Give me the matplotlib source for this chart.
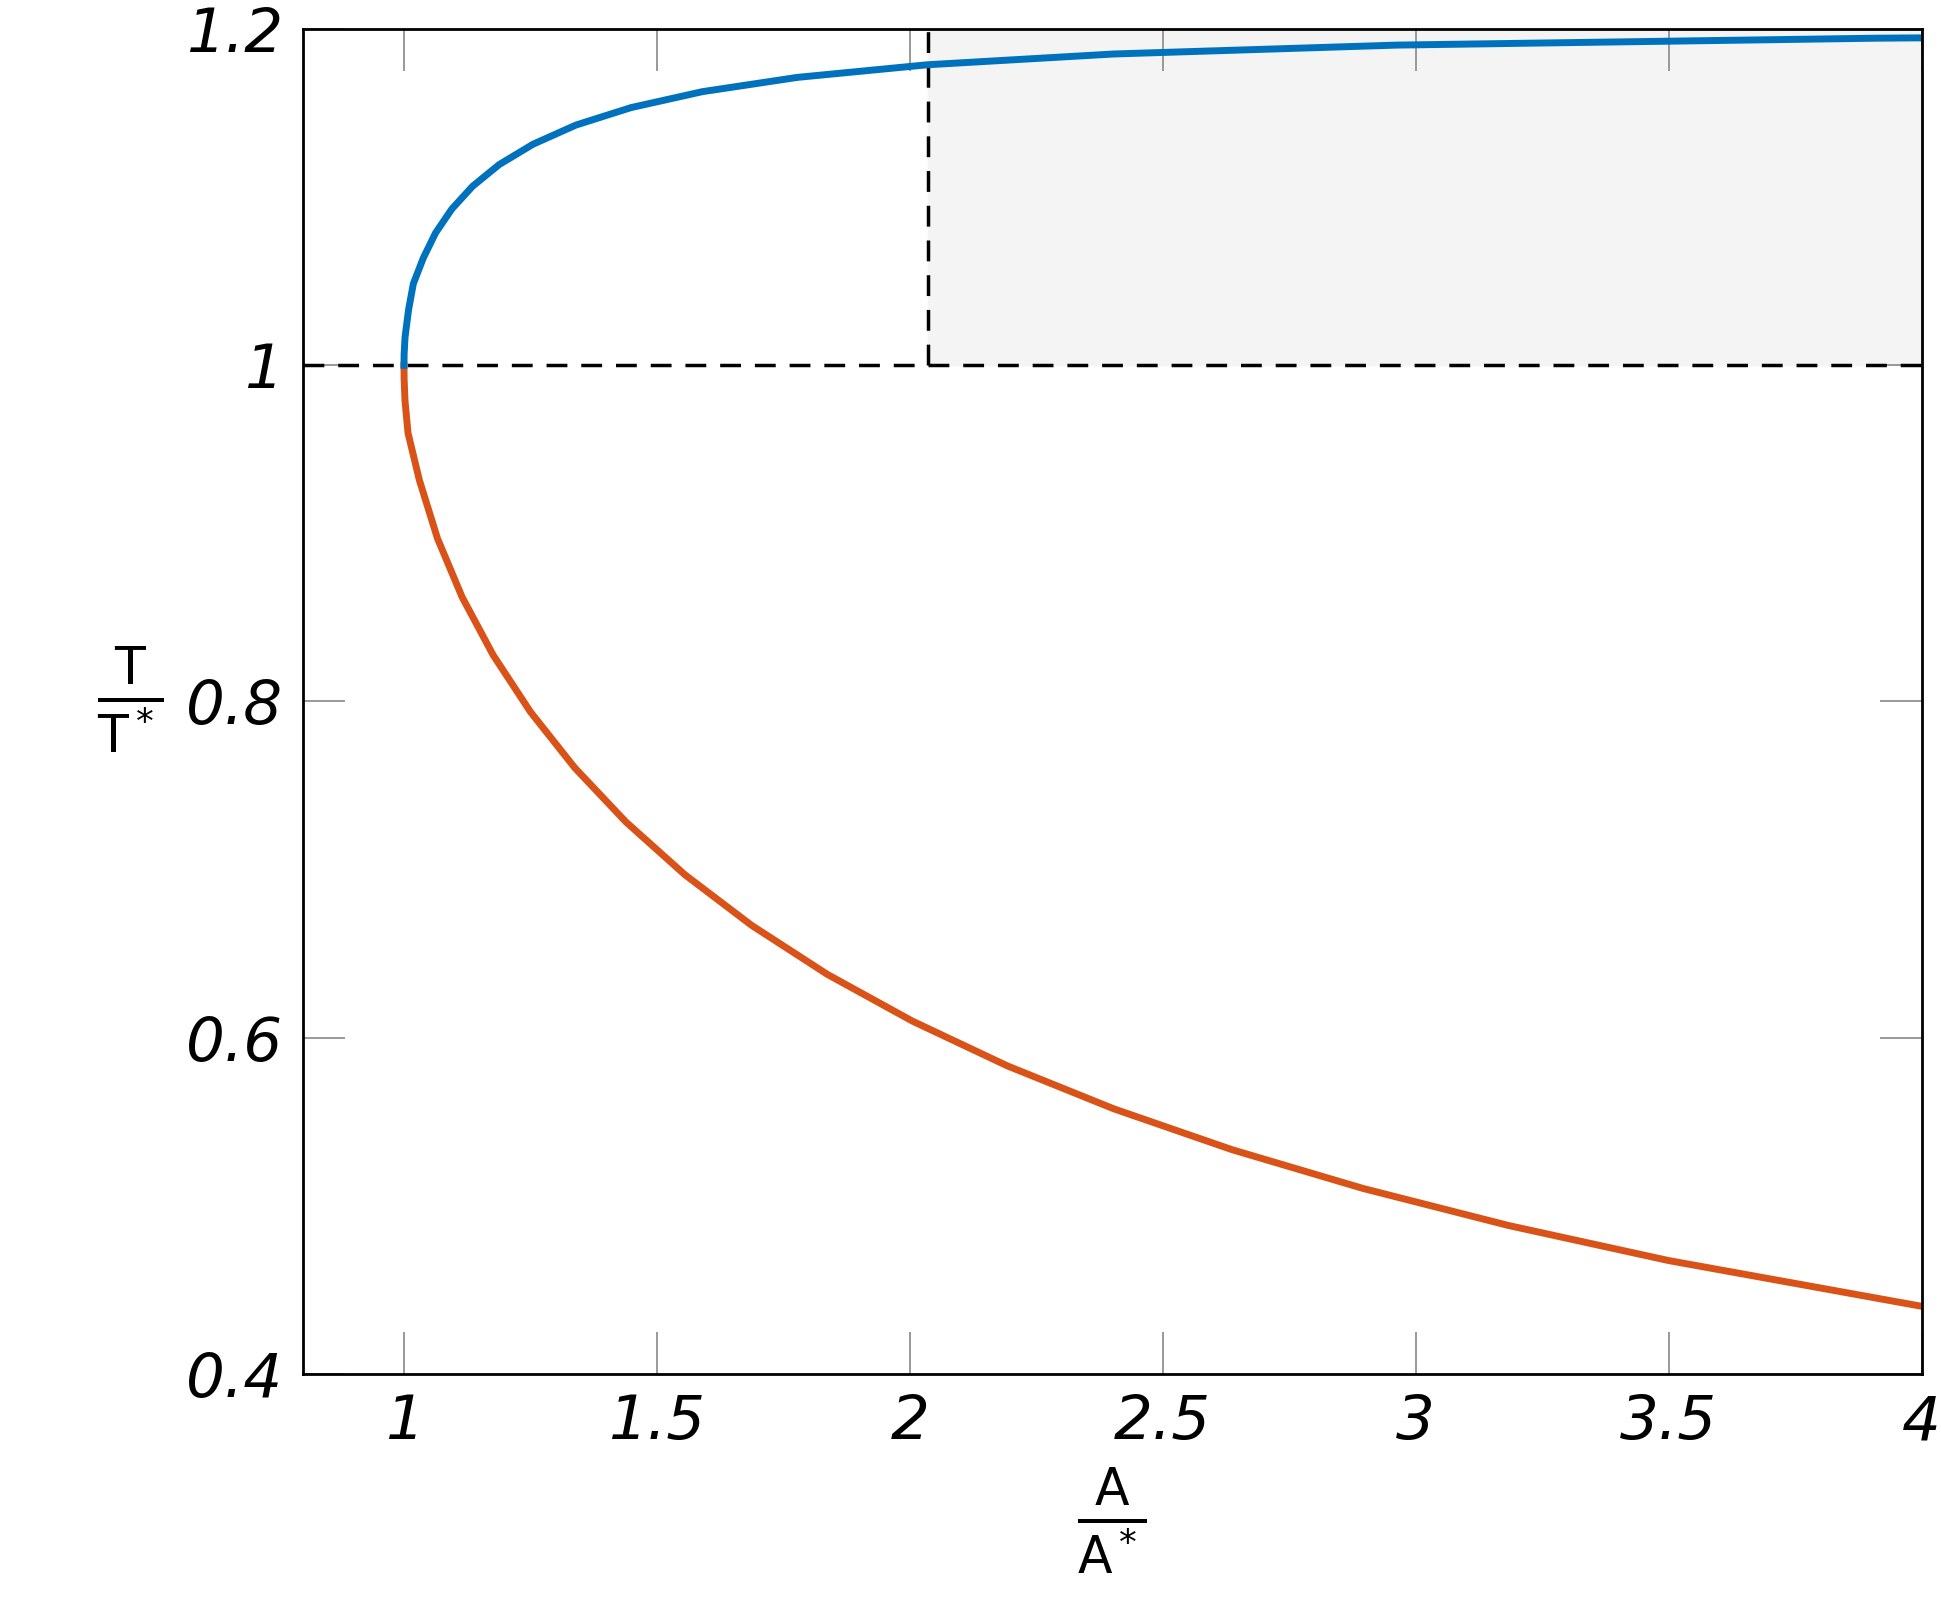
import matplotlib
matplotlib.use("Agg")
import matplotlib.pyplot as plt

# subsonic branch
sub_A = [1.0, 1.0003, 1.0021, 1.0089, 1.0185, 1.0382, 1.0624, 1.0944, 1.1356, 1.1882, 1.2550,
         1.3398, 1.4487, 1.5901, 1.7780, 2.0351, 2.4027, 2.9635, 3.91, 4.0]
sub_T = [1.0, 1.0066, 1.0166, 1.0327, 1.0485, 1.0638, 1.0787, 1.0929, 1.1065, 1.1194, 1.1315,
         1.1429, 1.1533, 1.1628, 1.1713, 1.1788, 1.1852, 1.1905, 1.1946, 1.1948]
# supersonic branch
sup_A = [1.0, 1.0003, 1.002, 1.008, 1.0304, 1.0663, 1.1149, 1.1762, 1.2502, 1.3376, 1.4390,
         1.5552, 1.6875, 1.8369, 2.0050, 2.1931, 2.4031, 2.6367, 2.8960, 3.1830, 3.5001, 4.0]
sup_T = [1.0, 0.9921, 0.979, 0.9597, 0.9317, 0.8969, 0.8621, 0.8276, 0.7937, 0.7605, 0.7282,
         0.6969, 0.6667, 0.6376, 0.6098, 0.5831, 0.5576, 0.5333, 0.5102, 0.4882, 0.4673, 0.4401]
shade_x = [2.036, 4.0]
shade_y = [1.0, 1.2]
xticks = [1, 1.5, 2, 2.5, 3, 3.5, 4]
xlabels = ["1", "1.5", "2", "2.5", "3", "3.5", "4"]
yticks = [0.4, 0.6, 0.8, 1.0, 1.2]
ylabels = ["0.4", "0.6", "0.8", "1", "1.2"]

fig = plt.figure(figsize=(19.41, 16.18), dpi=100)
ax = fig.add_axes([0.156, 0.151, 0.834, 0.831])
ax.fill_between(shade_x, shade_y[0], shade_y[1], color="#f4f4f4", zorder=0)
ax.plot([shade_x[0], shade_x[0]], shade_y, "k--", lw=2.5, dashes=(6, 4))
ax.axhline(1.0, color="k", ls="--", lw=2.5, dashes=(6, 4))
ax.plot(sup_A, sup_T, color="#D95319", lw=5)
ax.plot(sub_A, sub_T, color="#0072BD", lw=5)
ax.set_xlim(0.8, 4)
ax.set_ylim(0.4, 1.2)
ax.set_xticks(xticks)
ax.set_xticklabels(xlabels)
ax.set_yticks(yticks)
ax.set_yticklabels(ylabels)
ax.tick_params(direction="in", length=30, width=1.2, color="#888888", top=True, right=True,
               labelsize=44, pad=14)
for l in ax.get_xticklabels() + ax.get_yticklabels():
    l.set_fontstyle("italic")
for s in ax.spines.values():
    s.set_linewidth(2)
ax.set_xlabel(r"$\mathsf{\frac{A}{A^*}}$", fontsize=52, labelpad=10)
ax.set_ylabel(r"$\mathsf{\frac{T}{T^*}}$", fontsize=52, rotation=0, labelpad=40, va="center")
fig.savefig("out.png", dpi=100)
